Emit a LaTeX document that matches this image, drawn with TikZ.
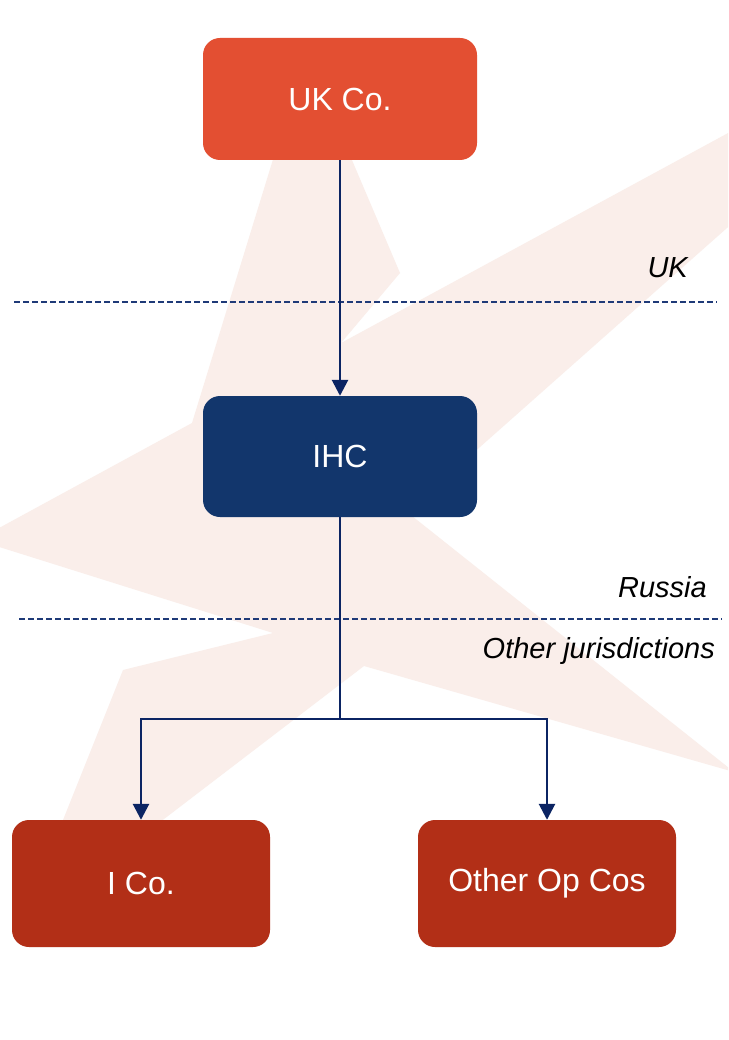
\documentclass[tikz,border=0pt]{standalone}
\usepackage{fontspec}
\setmainfont{Liberation Sans}
\usetikzlibrary{arrows.meta}

\definecolor{ukorange}{HTML}{E34F32}
\definecolor{ihcnavy}{HTML}{12366C}
\definecolor{opred}{HTML}{B22F17}
\definecolor{linknavy}{HTML}{0B2463}
\definecolor{borderblue}{HTML}{1F3A78}
\definecolor{starpink}{HTML}{FAEEEA}

\tikzset{
  entity/.style={rectangle, rounded corners=17pt, draw=none, text=white,
    font=\fontsize{32}{36}\selectfont, inner sep=0pt},
  link/.style={draw=linknavy, line width=2.7pt},
  linkarrow/.style={link, -{Triangle[width=16pt,length=16pt]}},
  border/.style={draw=borderblue, line width=1.1pt, dash pattern=on 5.5pt off 3.5pt},
  region/.style={font=\fontsize{29}{33}\selectfont\itshape, text=black,
    inner sep=0pt, anchor=base east}
}

\begin{document}
\begin{tikzpicture}[x=1pt, y=-1pt]
  % page frame
  \fill[white] (0,0) rectangle (728,1040);
  \useasboundingbox (0,0) rectangle (728,1040);

  % faint star watermark in the background
  \begin{scope}
    \clip (0,0) rectangle (728,1040);
    \fill[starpink]
      (306,52) -- (400,273) -- (341,343) -- (1001,-15) -- (480,447)
      -- (407,512) -- (734,772) -- (364,666) -- (19,930) -- (123,670)
      -- (273,633) -- (-23,540) -- (192,423) -- cycle;
  \end{scope}

  % jurisdiction borders
  \coordinate (ukL) at (14,302);
  \coordinate (ukR) at (717,302);
  \coordinate (ruL) at (19,619);
  \coordinate (ruR) at (722,619);
  \draw[border] (ukL) -- (ukR);
  \draw[border] (ruL) -- (ruR);

  % region labels
  \node[region] (lblUK) at (688,278) {UK};
  \node[region] (lblRU) at (707,597) {Russia};
  \node[region] (lblOJ) at (715,658) {Other jurisdictions};

  % entities
  \node[entity, fill=ukorange, minimum width=274pt, minimum height=122pt] (ukco) at (340,99) {UK Co.};
  \node[entity, fill=ihcnavy, minimum width=274pt, minimum height=121pt] (ihc) at (340,456.5) {IHC};
  \node[entity, fill=opred, minimum width=258pt, minimum height=127pt] (ico) at (141,883.5) {I Co.};
  \node[entity, fill=opred, minimum width=258pt, minimum height=127pt] (opco) at (547,883.5) {Other Op Cos};

  % ownership links
  \coordinate (split) at (340,719);
  \draw[linkarrow] (ukco.south) -- (ihc.north);
  \draw[link] (ihc.south) -- (split);
  \draw[linkarrow] (split) -| (ico.north);
  \draw[linkarrow] (split) -| (opco.north);
\end{tikzpicture}
\end{document}
